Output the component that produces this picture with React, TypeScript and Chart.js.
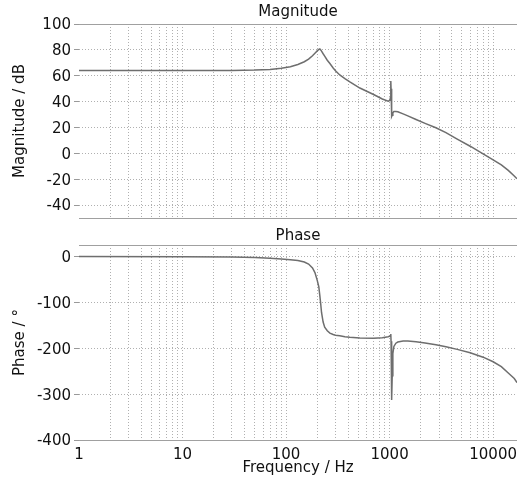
import React, { useEffect, useRef } from "react";
import { Chart, registerables } from "chart.js";

Chart.register(...registerables);

// ---- data ----
const freqHz = [
  1, 10, 30, 50, 70, 90, 110, 130, 150, 165, 180, 190, 200, 207, 212, 216, 220, 228, 236, 250,
  265, 285, 300, 330, 370, 413, 516, 700, 850, 968, 1005, 1018, 1025, 1029, 1033, 1040, 1047,
  1052, 1060, 1075, 1100, 1150, 1200, 1350, 1500, 1800, 2200, 2800, 3500, 4500, 6000, 8000,
  10000, 12000, 14000, 16000, 17000,
];

const magnitudeDb = [
  64, 64, 64.1, 64.4, 64.9, 65.7, 67, 68.7, 70.8, 72.8, 75.5, 77.4, 79.2, 80.3, 80.7, 80, 79,
  77, 75.2, 72, 69.5, 66, 63.8, 60.6, 57.8, 55.3, 50.5, 45.5, 42, 40.3, 40.8, 43, 50, 56, 50, 38,
  30, 28.5, 29.5, 31.3, 32.3, 32.4, 32.1, 30.5, 29, 26.2, 23.2, 19.8, 16, 11, 5.5, -0.5, -5,
  -9, -13.2, -17.5, -19.7,
];

const phaseDeg = [
  0, -0.4, -1.3, -2.5, -4, -5.5, -7, -9, -12, -16.5, -25, -35, -52, -66, -86, -103, -122, -143,
  -154, -162, -167, -170, -171.5, -173, -175, -176, -177.5, -178, -177, -175, -173.5, -172,
  -170, -169, -185, -250, -300, -313, -260, -212, -196, -189, -186.5, -184.5, -184.5, -186,
  -188.5, -192.5, -197, -202.5, -210, -219.5, -229.5, -240, -254, -266, -275,
];

const xGridValues = [
  1, 2, 3, 4, 5, 6, 7, 8, 9,
  10, 20, 30, 40, 50, 60, 70, 80, 90,
  100, 200, 300, 400, 500, 600, 700, 800, 900,
  1000, 2000, 3000, 4000, 5000, 6000, 7000, 8000, 9000,
  10000,
];
const xLabelValues = [1, 10, 100, 1000, 10000];
const magTicks = [-40, -20, 0, 20, 40, 60, 80, 100];
const phaseTicks = [-400, -300, -200, -100, 0];

const FONT = { family: "'DejaVu Sans', Verdana, sans-serif", size: 15 };
const TEXT = "#111";
const GRID = "#b0b0b0";
const FRAME = "#a0a0a0";
const LINE = "#6e6e6e";

const frameTop = {
  id: "frameTop",
  afterDraw(chart: any) {
    const { ctx, chartArea } = chart;
    ctx.save();
    ctx.strokeStyle = FRAME;
    ctx.lineWidth = 1;
    ctx.beginPath();
    const y = Math.round(chartArea.top) + 0.5;
    ctx.moveTo(chartArea.left, y);
    ctx.lineTo(chartArea.right, y);
    ctx.stroke();
    ctx.restore();
  },
};

function buildConfig(kind: "mag" | "phase"): any {
  const isMag = kind === "mag";
  const values = isMag ? magnitudeDb : phaseDeg;
  const yTicks = isMag ? magTicks : phaseTicks;
  return {
    type: "line",
    data: {
      datasets: [
        {
          data: freqHz.map((f, i) => ({ x: f, y: values[i] })),
          borderColor: LINE,
          borderWidth: 1.5,
          pointRadius: 0,
          tension: 0,
          fill: false,
        },
      ],
    },
    options: {
      animation: false,
      responsive: false,
      maintainAspectRatio: false,
      devicePixelRatio: 1,
      layout: { padding: 0 },
      plugins: {
        legend: { display: false },
        tooltip: { enabled: false },
        title: {
          display: true,
          text: isMag ? "Magnitude" : "Phase",
          color: TEXT,
          font: { ...FONT, weight: "normal" },
          fullSize: false,
          padding: isMag ? { top: 3, bottom: 3 } : { top: 5, bottom: 0 },
        },
      },
      scales: {
        x: {
          type: "logarithmic",
          min: 1,
          max: 17000,
          afterBuildTicks: (s: any) => {
            s.ticks = xGridValues.map((v) => ({ value: v }));
          },
          afterFit: (s: any) => {
            s.height = isMag ? 4 : 48;
            s.paddingLeft = 0;
            s.paddingRight = 0;
          },
          grid: {
            color: (c: any) => (c.tick && c.tick.value === 1 ? "rgba(0,0,0,0)" : GRID),
            lineWidth: 1,
            drawTicks: false,
          },
          border: { display: true, color: FRAME, width: 1, dash: [1, 2] },
          ticks: {
            display: !isMag,
            autoSkip: false,
            maxRotation: 0,
            minRotation: 0,
            color: TEXT,
            font: FONT,
            padding: 6,
            callback: (v: any) => (xLabelValues.includes(Number(v)) ? String(v) : ""),
          },
          title: {
            display: !isMag,
            text: "Frequency / Hz",
            color: TEXT,
            font: FONT,
            padding: { top: 0, bottom: 11 },
          },
        },
        y: {
          type: "linear",
          min: isMag ? -50 : -400,
          max: isMag ? 100 : 25,
          afterBuildTicks: (s: any) => {
            s.ticks = yTicks.map((v) => ({ value: v }));
          },
          afterFit: (s: any) => {
            s.width = 79;
            s.paddingTop = 0;
            s.paddingBottom = 0;
          },
          grid: {
            color: GRID,
            lineWidth: 1,
            drawTicks: true,
            tickLength: 5,
            tickColor: "#999",
            tickBorderDash: [],
          },
          border: { display: false, dash: [1, 2] },
          ticks: { color: TEXT, font: FONT, padding: 3, labelOffset: 1.5 },
          title: {
            display: true,
            text: isMag ? "Magnitude / dB" : "Phase / °",
            color: TEXT,
            font: FONT,
            padding: { top: 11, bottom: 0 },
          },
        },
      },
    },
    plugins: [frameTop],
  };
}

function Panel({ kind, top, height }: { kind: "mag" | "phase"; top: number; height: number }) {
  const ref = useRef<HTMLCanvasElement | null>(null);
  useEffect(() => {
    if (!ref.current) return;
    const chart = new Chart(ref.current, buildConfig(kind));
    return () => chart.destroy();
  }, [kind]);
  return (
    <canvas
      ref={ref}
      width={517}
      height={height}
      style={{ position: "absolute", left: 0, top, width: 517, height }}
    />
  );
}

export default function App() {
  return (
    <div
      style={{
        position: "absolute",
        left: 0,
        top: 0,
        width: 517,
        height: 488,
        background: "#fff",
        overflow: "hidden",
      }}
    >
      <Panel kind="mag" top={0} height={222} />
      <Panel kind="phase" top={222} height={266} />
    </div>
  );
}
